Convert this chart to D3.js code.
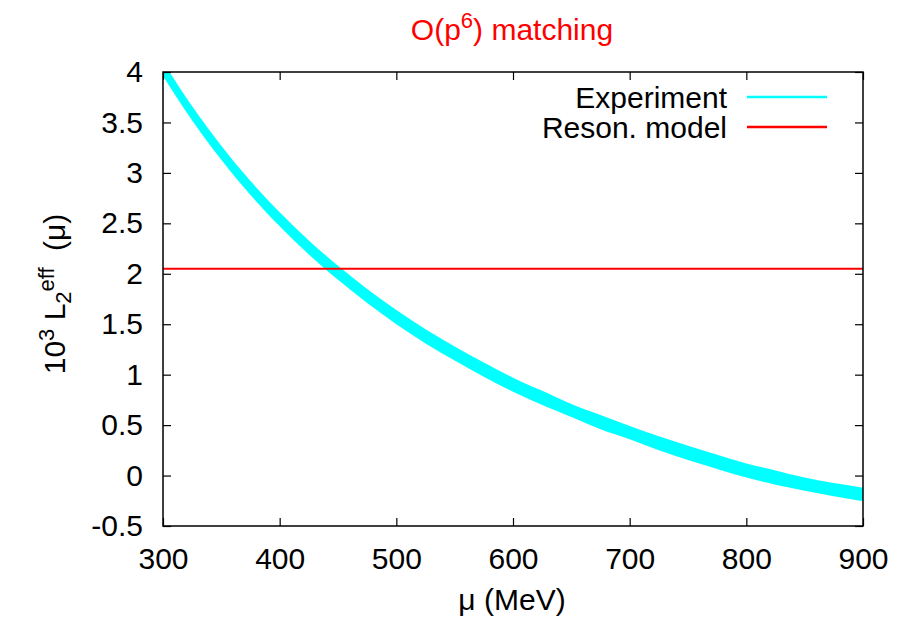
<!DOCTYPE html>
<html>
<head>
<meta charset="utf-8">
<script src="https://cdn.jsdelivr.net/npm/d3@7"></script>
<style>
  html, body { margin: 0; padding: 0; background: #fff; }
  svg text { font-family: "Liberation Sans", Arial, Helvetica, sans-serif; }
</style>
</head>
<body>
<svg id="chart" width="909" height="618"></svg>
<script>
// ---- data ----
const muValues = [300,325,350,375,400,425,450,475,500,525,550,575,600,625,650,675,700,725,750,775,800,825,850,875,900];
const experimentUpper = [4.10,3.66,3.27,2.92,2.61,2.33,2.08,1.85,1.64,1.45,1.28,1.12,0.97,0.84,0.71,0.60,0.49,0.39,0.295,0.205,0.12,0.05,-0.02,-0.075,-0.12];
const experimentLower = [3.96,3.52,3.13,2.78,2.47,2.19,1.94,1.71,1.50,1.31,1.14,0.98,0.83,0.70,0.58,0.46,0.36,0.25,0.155,0.065,-0.02,-0.09,-0.15,-0.205,-0.255];
const resonanceModel = [2.05, 2.05];
const resonanceMu = [300, 900];
const xTicks = [300,400,500,600,700,800,900];
const yTicks = [-0.5,0,0.5,1,1.5,2,2.5,3,3.5,4];
const yTickLabels = ["-0.5","0","0.5","1","1.5","2","2.5","3","3.5","4"];
const legendLabels = ["Experiment", "Reson. model"];
const seriesColors = ["#00ffff", "#ff0000"];

// ---- layout ----
const W = 909, H = 618;
const m = {left: 163, right: 46, top: 72, bottom: 92};
const FS = 30, SFS = 22;
const svg = d3.select("#chart");

const x = d3.scaleLinear().domain([300, 900]).range([m.left, W - m.right]);
const y = d3.scaleLinear().domain([-0.5, 4]).range([H - m.bottom, m.top]);

svg.append("defs").append("clipPath").attr("id", "clip")
  .append("rect").attr("x", m.left).attr("y", m.top)
  .attr("width", x.range()[1] - m.left).attr("height", y.range()[0] - m.top);

// band
const bandData = muValues.map((mu, i) => ({mu, lo: experimentLower[i], hi: experimentUpper[i]}));
const area = d3.area()
  .x(d => x(d.mu)).y0(d => y(d.lo)).y1(d => y(d.hi))
  .curve(d3.curveMonotoneX);
svg.append("path").datum(bandData)
  .attr("clip-path", "url(#clip)")
  .attr("d", area)
  .attr("fill", seriesColors[0]);

// resonance line
const line = d3.line().x(d => x(d[0])).y(d => y(d[1]));
svg.append("path")
  .datum(resonanceMu.map((mu, i) => [mu, resonanceModel[i]]))
  .attr("d", line)
  .attr("fill", "none").attr("stroke", seriesColors[1]).attr("stroke-width", 2);

// axes (inward ticks on all sides)
const tickLen = 8;
const gB = svg.append("g").attr("transform", `translate(0,${y.range()[0]})`)
  .call(d3.axisBottom(x).tickValues(xTicks).tickSizeInner(-tickLen).tickSizeOuter(0).tickPadding(tickLen + 14).tickFormat(d3.format("d")));
const gT = svg.append("g").attr("transform", `translate(0,${m.top})`)
  .call(d3.axisTop(x).tickValues(xTicks).tickSizeInner(-tickLen).tickSizeOuter(0).tickFormat(""));
const gL = svg.append("g").attr("transform", `translate(${m.left},0)`)
  .call(d3.axisLeft(y).tickValues(yTicks).tickSizeInner(-tickLen).tickSizeOuter(0).tickPadding(tickLen + 12)
    .tickFormat((d, i) => yTickLabels[i]));
const gR = svg.append("g").attr("transform", `translate(${x.range()[1]},0)`)
  .call(d3.axisRight(y).tickValues(yTicks).tickSizeInner(-tickLen).tickSizeOuter(0).tickFormat(""));
[gB, gT, gL, gR].forEach(g => {
  g.select(".domain").remove();
  g.selectAll(".tick line").attr("stroke", "#000").attr("stroke-width", 1.2);
  g.selectAll("text").attr("font-size", FS).attr("fill", "#000")
    .attr("font-family", '"Liberation Sans", Arial, sans-serif');
});
gB.selectAll("text").attr("dy", "0.71em");

// frame
svg.append("rect")
  .attr("x", m.left).attr("y", m.top)
  .attr("width", x.range()[1] - m.left).attr("height", y.range()[0] - m.top)
  .attr("fill", "none").attr("stroke", "#000").attr("stroke-width", 1.5);

// legend
const legY = [97, 127];
legendLabels.forEach((lab, i) => {
  svg.append("text").attr("x", 727).attr("y", legY[i]).attr("dy", "0.35em")
    .attr("text-anchor", "end").attr("font-size", FS).attr("fill", "#000").text(lab);
  svg.append("line").attr("x1", 747).attr("x2", 827).attr("y1", legY[i]).attr("y2", legY[i])
    .attr("stroke", seriesColors[i]).attr("stroke-width", 2.5);
});

// title
const title = svg.append("text").attr("x", 512).attr("y", 40)
  .attr("text-anchor", "middle").attr("font-size", FS).attr("fill", "#ff0000");
title.append("tspan").text("O(p");
title.append("tspan").attr("dy", -12).attr("font-size", SFS).text("6");
title.append("tspan").attr("dy", 12).text(") matching");

// x label
svg.append("text").attr("x", 512).attr("y", 610)
  .attr("text-anchor", "middle").attr("font-size", FS).attr("fill", "#000").text("μ (MeV)");

// y label
const yl = svg.append("text").attr("transform", "translate(65,294) rotate(-90)")
  .attr("text-anchor", "middle").attr("font-size", FS).attr("fill", "#000");
yl.append("tspan").text("10");
yl.append("tspan").attr("dy", -11).attr("font-size", SFS).text("3");
yl.append("tspan").attr("dy", 11).text(" L");
yl.append("tspan").attr("dy", 6).attr("font-size", SFS).text("2");
yl.append("tspan").attr("dy", -17).attr("font-size", SFS).text("eff");
yl.append("tspan").attr("dy", 11).attr("dx", 8).text(" (μ)");
</script>
</body>
</html>
